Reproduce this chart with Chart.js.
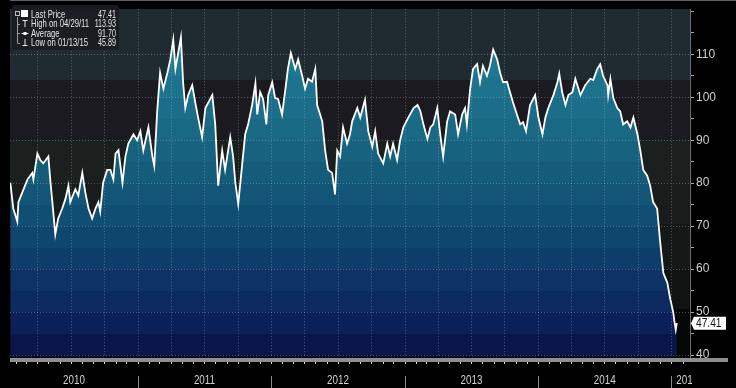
<!DOCTYPE html>
<html><head><meta charset="utf-8">
<script src="https://cdn.jsdelivr.net/npm/chart.js@4.4.1/dist/chart.umd.min.js"></script>
<style>html,body{margin:0;padding:0;background:#000;}#wrap{width:736px;height:388px;position:relative;}</style>
</head><body><div id="wrap"><canvas id="c" width="736" height="388"></canvas></div>
<script>
const dates = [
'2010-01-17','2010-01-25','2010-02-05','2010-02-08','2010-02-19','2010-03-05','2010-03-18','2010-03-21','2010-04-01','2010-04-09',
'2010-04-17','2010-05-01','2010-05-07','2010-05-12','2010-05-20','2010-05-28','2010-06-08','2010-06-17','2010-06-25','2010-06-30',
'2010-07-14','2010-07-22','2010-08-02','2010-08-10','2010-08-19','2010-08-29','2010-09-07','2010-09-15','2010-09-20','2010-09-28',
'2010-10-09','2010-10-18','2010-10-26','2010-11-01','2010-11-09','2010-11-20','2010-11-28','2010-12-06','2010-12-20','2010-12-30',
'2011-01-08','2011-01-16','2011-01-30','2011-02-10','2011-02-15','2011-02-23','2011-03-03','2011-03-12','2011-03-23','2011-03-31',
'2011-04-08','2011-04-14','2011-04-29','2011-05-05','2011-05-11','2011-05-19','2011-05-30','2011-06-07','2011-06-15','2011-06-26',
'2011-07-05','2011-07-24','2011-08-01','2011-08-09','2011-08-20','2011-08-28','2011-09-11','2011-09-19','2011-09-25','2011-10-03',
'2011-10-14','2011-10-22','2011-10-30','2011-11-10','2011-11-19','2011-11-24','2011-12-02','2011-12-10','2011-12-19','2011-12-24',
'2012-01-04','2012-01-12','2012-01-20','2012-01-31','2012-02-08','2012-02-16','2012-02-24','2012-03-07','2012-03-15','2012-03-26',
'2012-04-03','2012-04-11','2012-04-22','2012-05-01','2012-05-06','2012-05-20','2012-05-28','2012-06-05','2012-06-16','2012-06-24',
'2012-06-30','2012-07-08','2012-07-16','2012-07-27','2012-08-04','2012-08-10','2012-08-24','2012-09-01','2012-09-14','2012-09-23',
'2012-10-04','2012-10-12','2012-10-20','2012-11-03','2012-11-14','2012-11-22','2012-11-30','2012-12-11','2012-12-19','2012-12-28',
'2013-01-11','2013-01-25','2013-02-05','2013-02-13','2013-02-21','2013-03-04','2013-03-12','2013-03-20','2013-03-31','2013-04-08',
'2013-04-16','2013-04-27','2013-05-05','2013-05-19','2013-05-27','2013-06-07','2013-06-15','2013-06-20','2013-06-29','2013-07-07',
'2013-07-18','2013-07-26','2013-08-03','2013-08-14','2013-08-22','2013-08-31','2013-09-11','2013-09-19','2013-09-27','2013-10-08',
'2013-10-16','2013-10-24','2013-11-04','2013-11-13','2013-11-21','2013-11-29','2013-12-10','2013-12-24','2014-01-02','2014-01-13',
'2014-01-21','2014-01-29','2014-02-12','2014-02-23','2014-02-28','2014-03-08','2014-03-17','2014-03-25','2014-04-05','2014-04-13',
'2014-04-27','2014-05-10','2014-05-24','2014-06-01','2014-06-12','2014-06-20','2014-06-28','2014-07-10','2014-07-12','2014-07-18',
'2014-07-26','2014-08-06','2014-08-14','2014-08-22','2014-09-02','2014-09-11','2014-09-19','2014-09-30','2014-10-08','2014-10-16',
'2014-10-27','2014-11-04','2014-11-12','2014-11-23','2014-12-01','2014-12-10','2014-12-21','2014-12-29','2015-01-06','2015-01-09',
'2015-01-13','2015-01-16'
];
const prices = [
80.1,74.1,71.1,75.6,77.9,80.9,82.4,80.9,86.9,85.4,
84.6,86.2,80.1,75.6,68.1,71.8,74.1,76.4,79.4,75.6,
78.6,77.1,82.4,77.9,74.1,71.8,74.1,75.6,73.4,80.1,
83.1,83.1,80.9,86.9,87.7,80.1,86.2,89.2,91.4,90.0,
92.1,87.6,93.0,86.2,84.0,96.7,105.7,102.0,105.7,108.8,
113.4,106.6,113.93,103.5,97.5,100.5,102.8,98.9,95.3,90.7,
97.5,100.5,93.7,79.4,87.6,83.1,90.7,86.2,80.1,75.2,
84.6,91.4,93.7,98.2,103.2,96.0,101.2,99.6,93.7,100.5,
103.5,99.8,99.6,96.0,101.2,106.6,110.3,106.6,108.8,105.0,
102.0,104.3,103.6,106.6,98.2,94.4,87.6,83.1,82.4,77.4,
87.6,86.2,93.0,89.2,91.4,94.4,97.5,95.3,99.4,92.1,
88.5,92.1,86.9,84.6,89.2,86.2,89.2,85.4,89.9,93.0,
95.3,97.5,98.2,96.7,93.7,90.3,93.0,93.7,97.5,91.4,
86.2,94.4,96.7,96.0,91.4,96.0,97.5,93.7,102.0,106.6,
107.7,103.5,107.3,105.0,107.3,111.1,108.8,105.7,103.5,103.6,
101.2,98.9,96.0,93.7,94.2,92.1,98.2,100.5,95.3,91.4,
95.3,97.5,100.5,103.5,105.5,101.2,98.2,100.5,101.2,104.3,
100.5,102.8,104.3,104.0,106.6,107.7,105.0,102.8,100.5,104.3,
99.8,97.5,96.7,93.7,94.4,93.0,95.3,91.4,87.6,83.1,
81.7,79.4,75.6,74.1,66.6,59.1,56.8,53.0,50.0,48.0,
45.89,47.41
];
const yearLabels = ['2010','2011','2012','2013','2014','2015'];
const yTickLabels = [40,50,60,70,80,90,100,110];
const averagePrice = 91.70;
const axisStart = '2010-01-16';
const axisEnd = '2015-02-21';
const yMin = 39.54, yMax = 120.5;

// styles
const bgBandEdges  = [120.5, 104, 90.3, 80, 70.4, 60, 50.7, 39.54];
const bgBandColors = ['#1f2b31','#1a1a20','#1b201f','#181d1c','#141817','#101312','#060707'];
const fillBandEdges  = [120.5,115,110,105,100,95,90,85,80,75,70,65,60,55,50,45,40,39.54];
const fillBandColors = ['#23849f','#217e99','#1f7893','#1d738e','#1b6d89','#196884','#17627f','#155c7b','#135577','#114e73','#0f466f','#0e3d6b','#0d3366','#0c2a60','#0b2058','#09164a','#080d38'];
const SANS = '"Liberation Sans",Arial,sans-serif';

const t = s => Date.parse(s);
const points = dates.map((d,i)=>({x:t(d), y:prices[i]}));

function fillGradient(context){
  const chart = context.chart, ca = chart.chartArea;
  if(!ca) return 'rgba(0,0,0,0)';
  const ys = chart.scales.y, span = ca.bottom - ca.top;
  const g = chart.ctx.createLinearGradient(0, ca.top, 0, ca.bottom);
  const cl = v => Math.min(1, Math.max(0, v));
  for(let i=0;i<fillBandColors.length;i++){
    const p0 = cl((ys.getPixelForValue(fillBandEdges[i]) - ca.top)/span);
    const p1 = cl((ys.getPixelForValue(fillBandEdges[i+1]) - ca.top)/span);
    g.addColorStop(p0, fillBandColors[i]);
    g.addColorStop(p1, fillBandColors[i]);
  }
  return g;
}

// draw horizontally condensed text (Arial Narrow look)
function narrowText(ctx, txt, x, y, align, sx){
  const w = ctx.measureText(txt).width * sx;
  let left = x;
  if(align==='right') left = x - w; else if(align==='center') left = x - w/2;
  ctx.save();
  ctx.translate(left, y);
  ctx.scale(sx, 1);
  ctx.textAlign = 'left';
  ctx.fillText(txt, 0, 0);
  ctx.restore();
}

const bgPlugin = {
  id:'bg',
  beforeDraw(chart){
    const {ctx, chartArea:ca, scales:{y}} = chart;
    ctx.save();
    ctx.fillStyle = '#000';
    ctx.fillRect(0,0,chart.width,chart.height);
    for(let i=0;i<bgBandColors.length;i++){
      const a = y.getPixelForValue(bgBandEdges[i]), b = y.getPixelForValue(bgBandEdges[i+1]);
      ctx.fillStyle = bgBandColors[i];
      ctx.fillRect(ca.left, Math.round(a), ca.right-ca.left, Math.round(b)-Math.round(a));
    }
    ctx.fillStyle = '#5a6064';
    ctx.fillRect(ca.left, 0, chart.width-ca.left, 1);
    ctx.restore();
  }
};

const gridPlugin = {
  id:'grid',
  afterDatasetDraw(chart, args){
    if(args.index !== 0) return;
    const {ctx, chartArea:ca, scales:{x,y}} = chart;
    ctx.save();
    ctx.strokeStyle = 'rgba(205,215,220,0.32)';
    ctx.lineWidth = 1;
    ctx.setLineDash([1,2]);
    for(let yr=2010; yr<=2015; yr++){
      for(let m=0;m<12;m+=3){
        const v = Date.UTC(yr,m,1);
        if(v<=x.min || v>=x.max) continue;
        const px = Math.round(x.getPixelForValue(v))+0.5;
        ctx.beginPath(); ctx.moveTo(px, ca.top); ctx.lineTo(px, ca.bottom); ctx.stroke();
      }
    }
    yTickLabels.forEach(v=>{
      const py = Math.round(y.getPixelForValue(v))+0.5;
      ctx.beginPath(); ctx.moveTo(ca.left, py); ctx.lineTo(ca.right, py); ctx.stroke();
    });
    ctx.restore();
  }
};

function fmtDate(s){ const [Y,M,D] = s.split('-'); return M+'/'+D+'/'+Y.slice(2); }

const overlayPlugin = {
  id:'overlay',
  afterDraw(chart){
    const {ctx, chartArea:ca, scales:{x,y}} = chart;
    ctx.save();
    // bottom bar
    ctx.fillStyle = '#8e8e8e';
    ctx.fillRect(ca.left, ca.bottom+1, 718, 4);
    // month ticks
    ctx.fillStyle = '#d8d8d8';
    for(let yr=2010; yr<=2015; yr++){
      for(let m=0;m<12;m++){
        const v = Date.UTC(yr,m,1);
        if(v<=x.min || v>=x.max) continue;
        ctx.fillRect(Math.round(x.getPixelForValue(v)), ca.bottom+5, 1, 2);
      }
    }
    // year separators and labels
    ctx.font = '12px '+SANS;
    ctx.textBaseline = 'middle';
    yearLabels.forEach(lbl=>{
      const yr = +lbl;
      const s = Math.max(x.min, Date.UTC(yr,0,1)), e = Math.min(x.max, Date.UTC(yr+1,0,1));
      const ps = x.getPixelForValue(s), pe = x.getPixelForValue(e);
      if(Date.UTC(yr,0,1) > x.min){
        ctx.fillStyle = '#8a8a8a';
        ctx.fillRect(Math.round(ps), ca.bottom+19, 1, 12);
      }
      ctx.fillStyle = '#d2d2d2';
      const w = ctx.measureText(lbl).width*0.82;
      if(pe-ps > w+10){
        narrowText(ctx, lbl, (ps+pe)/2, ca.bottom+24, 'center', 0.82);
      } else {
        ctx.save();
        ctx.beginPath(); ctx.rect(ps, ca.bottom+10, ca.right+2-ps, 30); ctx.clip();
        narrowText(ctx, lbl, ps+5, ca.bottom+24, 'left', 0.82);
        ctx.restore();
      }
    });
    // last price tag
    const last = prices[prices.length-1];
    const py = y.getPixelForValue(last);
    ctx.fillStyle = '#ffffff';
    ctx.beginPath();
    ctx.moveTo(ca.right+1, py);
    ctx.lineTo(ca.right+4, py-6.5);
    ctx.lineTo(ca.right+36, py-6.5);
    ctx.lineTo(ca.right+36, py+6.5);
    ctx.lineTo(ca.right+4, py+6.5);
    ctx.closePath(); ctx.fill();
    ctx.fillStyle = '#111';
    ctx.font = '12px '+SANS;
    narrowText(ctx, last.toFixed(2), ca.right+6, py+0.5, 'left', 0.85);

    // legend box
    let hi=0, lo=0;
    prices.forEach((v,i)=>{ if(v>prices[hi]) hi=i; if(v<prices[lo]) lo=i; });
    const bx=12, by=5, bw=107, bh=45;
    ctx.fillStyle = 'rgba(26,28,32,0.93)';
    ctx.beginPath(); ctx.roundRect(bx,by,bw,bh,3); ctx.fill();
    const rowsY = [14, 23.7, 33.3, 42.7];
    const labels = ['Last Price', 'High on '+fmtDate(dates[hi]), 'Average', 'Low on '+fmtDate(dates[lo])];
    const vals = [last, prices[hi], averagePrice, prices[lo]];
    ctx.font = '11px '+SANS;
    ctx.fillStyle = '#e4e4e4';
    labels.forEach((l,i)=>{
      narrowText(ctx, l, 31, rowsY[i]+0.5, 'left', 0.7);
      narrowText(ctx, vals[i].toFixed(2), 116, rowsY[i]+0.5, 'right', 0.65);
    });
    // icons
    ctx.strokeStyle = '#bdbdbd'; ctx.lineWidth = 1;
    ctx.strokeRect(15.5, 11.5, 4, 4);
    ctx.fillStyle = '#ffffff';
    ctx.fillRect(21, 10, 7, 7);
    ctx.strokeStyle = '#9a9a9a';
    ctx.beginPath(); ctx.moveTo(17.5,17); ctx.lineTo(17.5,43); ctx.stroke();
    [23.7,33.3,42.7].forEach(yy=>{ ctx.beginPath(); ctx.moveTo(17.5,Math.round(yy)+0.5); ctx.lineTo(20,Math.round(yy)+0.5); ctx.stroke(); });
    ctx.strokeStyle = '#e8e8e8';
    ctx.beginPath(); ctx.moveTo(22.5,20.5); ctx.lineTo(27.5,20.5); ctx.moveTo(25,20.5); ctx.lineTo(25,27); ctx.stroke();
    ctx.beginPath(); ctx.moveTo(21.5,33.5); ctx.lineTo(28.5,33.5); ctx.stroke();
    ctx.fillRect(23.5,32,3,3);
    ctx.beginPath(); ctx.moveTo(25,39); ctx.lineTo(25,45.5); ctx.moveTo(22.5,45.5); ctx.lineTo(27.5,45.5); ctx.stroke();
    ctx.restore();
  }
};

new Chart(document.getElementById('c'), {
  type:'line',
  data:{ datasets:[
    { data: points, borderWidth:0, pointRadius:0, fill:'start', backgroundColor: fillGradient, order:2 },
    { data: points, borderColor:'#ffffff', borderWidth:1.8, pointRadius:0, fill:false, order:1 }
  ]},
  options:{
    responsive:false, animation:false, devicePixelRatio:1,
    layout:{ padding:{ left:10, top:2, right:0, bottom:0 } },
    plugins:{ legend:{display:false}, tooltip:{enabled:false} },
    elements:{ line:{ tension:0 } },
    scales:{
      x:{ type:'linear', min:t(axisStart), max:t(axisEnd),
          ticks:{display:false}, grid:{display:false}, border:{display:false},
          afterFit(s){ s.height = 31; } },
      y:{ position:'right', min:yMin, max:yMax,
          afterBuildTicks(s){ const a=[]; for(let v=40; v<=120; v+=5) a.push({value:v}); s.ticks=a; },
          ticks:{ autoSkip:false, color:'#cfcfcf', font:{ family:'"Liberation Sans",Arial,sans-serif', size:12 }, padding:2,
                  callback:(v)=> (yTickLabels.includes(v) ? String(v) : '') },
          grid:{ drawOnChartArea:false, drawTicks:true, tickLength:4, tickColor:'#a8a8a8' },
          border:{ display:true, color:'#6c6c6c' },
          afterFit(s){ s.width = 46; } }
    }
  },
  plugins:[bgPlugin, gridPlugin, overlayPlugin]
});
</script></body></html>
